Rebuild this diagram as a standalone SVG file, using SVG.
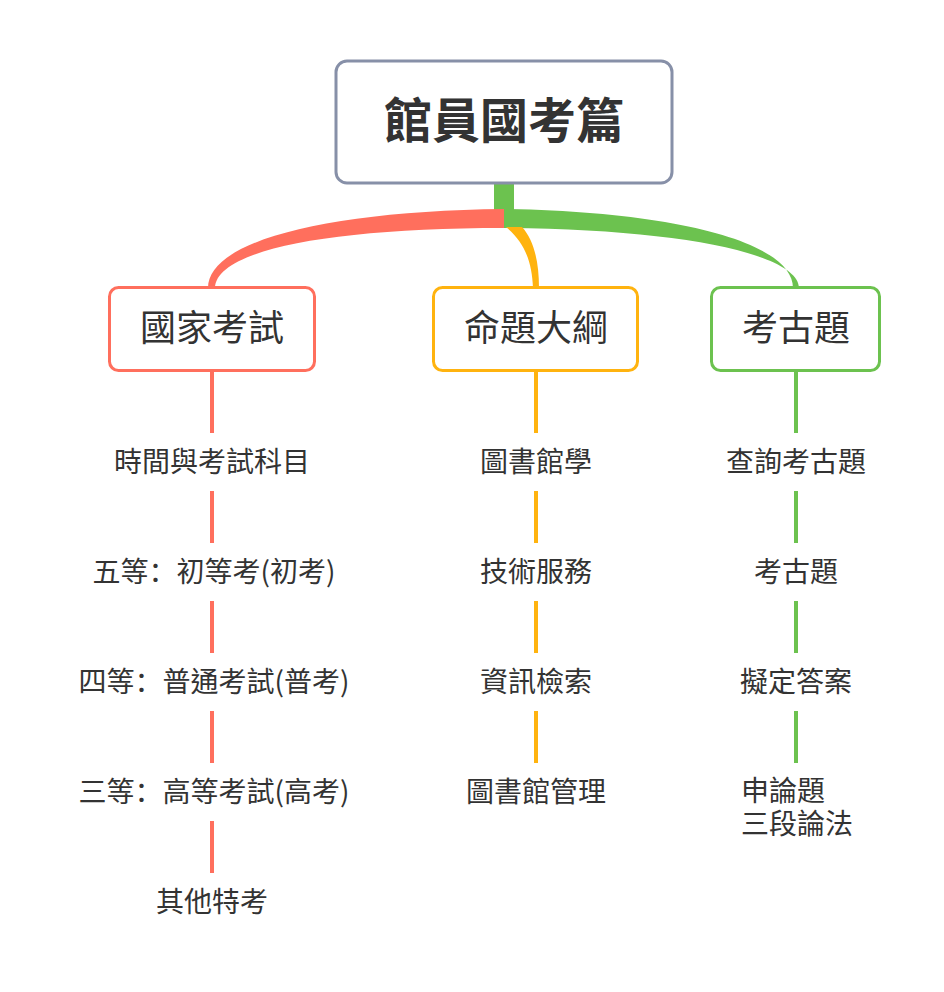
<svg xmlns="http://www.w3.org/2000/svg" width="944" height="992" viewBox="0 0 944 992">
<style>
.t{font-family:"Noto Sans CJK TC","Noto Sans CJK SC",sans-serif;fill:#333333;text-anchor:middle}
.sc{font-family:"Noto Sans CJK SC","Noto Sans CJK TC",sans-serif}
.l2{font-size:28px}
.l1{font-size:36px}
.root{font-size:48px;font-weight:bold}
.box{fill:#ffffff;stroke-width:3}
.red{stroke:#FF6F5D}
.org{stroke:#FFB30F}
.grn{stroke:#6CC24F}
.seg{stroke-width:4;fill:none}
</style>
<rect width="944" height="992" fill="#ffffff"/>
<g id="connectors">
<rect x="494" y="182" width="20" height="44" fill="#6CC24F"/>
<path d="M504 209 C330 211 208 240 208 288 L215 288 C216 250 330 228 504 228 Z" fill="#FF6F5D"/>
<path d="M504 209 C680 212 793 243 793 288 L799 288 C799 254 680 229 504 228 Z" fill="#6CC24F"/>
<path d="M506 227 L522 227 C534 240 539 262 539 288 L533 288 C532 262 525 243 506 227 Z" fill="#FFB30F"/>
<g class="seg red">
<path d="M212 371 V433 M212 491 V543 M212 601 V653 M212 711 V763 M212 821 V873"/>
</g>
<g class="seg org">
<path d="M536 371 V433 M536 491 V543 M536 601 V653 M536 711 V763"/>
</g>
<g class="seg grn">
<path d="M796 371 V433 M796 491 V543 M796 601 V653 M796 711 V763"/>
</g>
</g>
<g id="root">
<rect class="box" x="336" y="61" width="336" height="122" rx="11" stroke="#8790A8"/>
<text class="t root" x="504" y="138">館員國考篇</text>
</g>
<g id="n-exam">
<rect class="box red" x="109.5" y="287.5" width="205" height="83" rx="9"/>
<text class="t l1" x="212" y="341">國家考試</text>
</g>
<g id="n-outline">
<rect class="box org" x="433.5" y="287.5" width="204" height="83" rx="9"/>
<text class="t l1" x="536" y="341">命題大綱</text>
</g>
<g id="n-past">
<rect class="box grn" x="711.5" y="287.5" width="168" height="83" rx="9"/>
<text class="t l1" x="796" y="341">考古題</text>
</g>
<g id="n-exam-1"><text class="t l2" x="212" y="472">時間與考試科目</text></g>
<g id="n-exam-2"><text class="t l2" x="214" y="582">五等<tspan class="sc">：</tspan>初等考(初考)</text></g>
<g id="n-exam-3"><text class="t l2" x="214" y="692">四等<tspan class="sc">：</tspan>普通考試(普考)</text></g>
<g id="n-exam-4"><text class="t l2" x="214" y="802">三等<tspan class="sc">：</tspan>高等考試(高考)</text></g>
<g id="n-exam-5"><text class="t l2" x="212" y="912">其他特考</text></g>
<g id="n-outline-1"><text class="t l2" x="536" y="472">圖書館學</text></g>
<g id="n-outline-2"><text class="t l2" x="536" y="582">技術服務</text></g>
<g id="n-outline-3"><text class="t l2" x="536" y="692">資訊檢索</text></g>
<g id="n-outline-4"><text class="t l2" x="536" y="802">圖書館管理</text></g>
<g id="n-past-1"><text class="t l2" x="796" y="472">查詢考古題</text></g>
<g id="n-past-2"><text class="t l2" x="796" y="582">考古題</text></g>
<g id="n-past-3"><text class="t l2" x="796" y="692">擬定答案</text></g>
<g id="n-past-4"><text class="t l2" x="741" y="801" style="text-anchor:start">申論題<tspan x="741" dy="33">三段論法</tspan></text></g>
</svg>
